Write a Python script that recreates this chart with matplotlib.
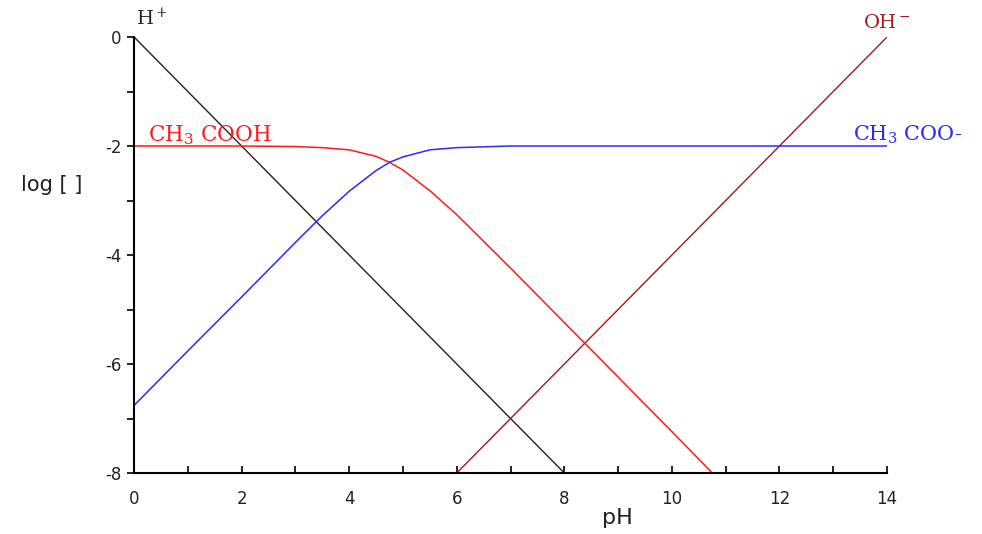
import matplotlib
matplotlib.use('Agg')
import matplotlib.pyplot as plt
from matplotlib.ticker import MultipleLocator, FuncFormatter

plt.rcParams['axes.unicode_minus'] = False
plt.rcParams['mathtext.fontset'] = 'dejavuserif'

# values
ph_h = [0, 8]
log_h = [0, -8]

ph_oh = [6, 14]
log_oh = [-8, 0]

ph_acid = [0, 1, 2, 3, 3.5, 4, 4.5, 4.75, 5, 5.5, 6, 6.5, 7, 8, 9, 10, 10.75]
log_acid = [-2.0, -2.0, -2.0, -2.01, -2.03, -2.07, -2.19, -2.3, -2.44, -2.82,
            -3.26, -3.75, -4.24, -5.24, -6.24, -7.24, -8.0]

ph_base = [0, 1, 2, 3, 3.5, 4, 4.5, 4.75, 5, 5.5, 6, 7, 8, 10, 14]
log_base = [-6.76, -5.76, -4.77, -3.77, -3.28, -2.83, -2.45, -2.3, -2.2, -2.07,
            -2.03, -2.0, -2.0, -2.0, -2.0]

fig = plt.figure(figsize=(9.82, 5.34), dpi=100)
ax = fig.add_axes([0.1365, 0.1142, 0.7668, 0.8165])

ax.plot(ph_h, log_h, color='#222222', lw=1.0)
ax.plot(ph_oh, log_oh, color='#9b1c1c', lw=1.0)
ax.plot(ph_acid, log_acid, color='#ff1a1a', lw=1.1)
ax.plot(ph_base, log_base, color='#2a2aff', lw=1.1)

ax.set_xlim(0, 14)
ax.set_ylim(-8, 0)
for s in ['top', 'right']:
    ax.spines[s].set_visible(False)
for s in ['left', 'bottom']:
    ax.spines[s].set_linewidth(1.5)

ax.xaxis.set_major_locator(MultipleLocator(1))
ax.yaxis.set_major_locator(MultipleLocator(1))
lab = lambda v, p: '%d' % v if int(round(v)) % 2 == 0 else ''
ax.xaxis.set_major_formatter(FuncFormatter(lab))
ax.yaxis.set_major_formatter(FuncFormatter(lab))
ax.tick_params(axis='x', direction='in', length=5, width=1.2, pad=12,
               labelsize=12, labelcolor='#222222')
ax.tick_params(axis='y', direction='out', length=5, width=1.2, pad=4,
               labelsize=12, labelcolor='#222222')

serif = 'DejaVu Serif'
ax.text(0.03, 0.15, 'H$^+$', color='#222222', fontsize=14, family=serif,
        ha='left', va='bottom', clip_on=False)
ax.text(14.0, 0.1, 'OH$^-$', color='#9b1c1c', fontsize=14, family=serif,
        ha='center', va='bottom', clip_on=False)
ax.text(0.26, -1.8, 'CH$_3$ COOH', color='#ff1a1a', fontsize=15.5,
        family=serif, ha='left', va='center')
ax.text(13.37, -1.8, 'CH$_3$ COO-', color='#2a2aff', fontsize=15,
        family=serif, ha='left', va='center', clip_on=False)

fig.text(52 / 982, 1 - 185 / 534, 'log [ ]', fontsize=15, color='#222222',
         ha='center', va='center')
fig.text(617 / 982, 1 - 518 / 534, 'pH', fontsize=16, color='#222222',
         ha='center', va='center')

plt.savefig('out.png', dpi=100)
